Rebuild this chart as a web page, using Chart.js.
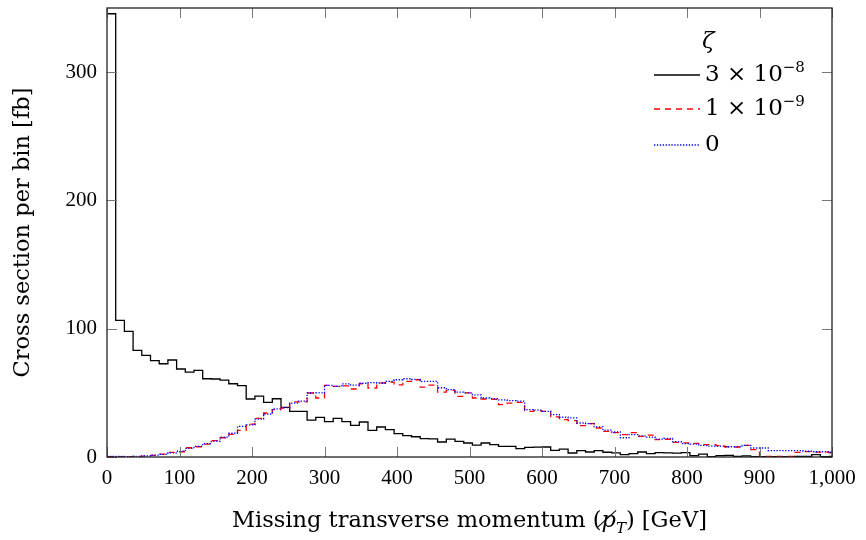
<!DOCTYPE html>
<html>
<head>
<meta charset="utf-8">
<script src="https://cdn.jsdelivr.net/npm/chart.js@4.4.1/dist/chart.umd.min.js"></script>
<style>
    html, body { margin: 0; padding: 0; background: #ffffff; }
    #wrap { position: relative; width: 866px; height: 540px; }
    #chart { position: absolute; left: 0; top: 0; }
    .serif { font-family: 'DejaVu Serif', serif; color: #000; }
    .xtitle { position: absolute; left: 107px; width: 725px; top: 505px; text-align: center; font-size: 22.5px; white-space: nowrap; line-height: 28px; }
    .xtitle sub { font-size: 15px; line-height: 0; }
    .leg { position: absolute; font-size: 23px; white-space: nowrap; line-height: 23px; height: 23px; }
    .leg svg { position: absolute; left: 0; top: 11px; }
    .leg span { position: absolute; left: 51px; top: 0; }
    .leg sup { font-size: 15px; vertical-align: 9px; line-height: 0; }
</style>
</head>
<body>
<div id="wrap">
    <canvas id="chart" width="866" height="540"></canvas>
    <div class="xtitle serif">Missing transverse momentum (<i>p&#824;</i><sub><i>T</i></sub>) [GeV]</div>
    <div class="leg serif" style="left:702px; top:29px;"><i>&zeta;</i></div>
    <div class="leg serif" style="left:654px; top:62px;">
        <svg width="46" height="4"><line x1="0" y1="2" x2="46" y2="2" stroke="#000" stroke-width="1.3"/></svg>
        <span>3 &times; 10<sup>&minus;8</sup></span>
    </div>
    <div class="leg serif" style="left:654px; top:96px;">
        <svg width="46" height="4"><line x1="0" y1="2" x2="46" y2="2" stroke="#ff0000" stroke-width="1.3" stroke-dasharray="6,5"/></svg>
        <span>1 &times; 10<sup>&minus;9</sup></span>
    </div>
    <div class="leg serif" style="left:654px; top:132px;">
        <svg width="46" height="4"><line x1="0" y1="2" x2="46" y2="2" stroke="#0000ff" stroke-width="1.3" stroke-dasharray="1.3,1.6"/></svg>
        <span>0</span>
    </div>
</div>
<script>
// bin edges (GeV), 12 GeV bins; last edge runs past the 1,000 axis limit
const binEdges = [0, 12, 24, 36, 48, 60, 72, 84, 96, 108, 120, 132, 144, 156, 168, 180, 192, 204,
    216, 228, 240, 252, 264, 276, 288, 300, 312, 324, 336, 348, 360, 372, 384, 396, 408, 420,
    432, 444, 456, 468, 480, 492, 504, 516, 528, 540, 552, 564, 576, 588, 600, 612, 624, 636,
    648, 660, 672, 684, 696, 708, 720, 732, 744, 756, 768, 780, 792, 804, 816, 828, 840, 852,
    864, 876, 888, 900, 912, 924, 936, 948, 960, 972, 984, 996, 1008];
const xTicks = [0, 100, 200, 300, 400, 500, 600, 700, 800, 900, 1000];
const yTicks = [0, 100, 200, 300];

// zeta = 3e-8 (black)
const zeta3e8 = [345.5, 106.5, 97.9, 83.1, 79.2, 75.1, 72.7, 75.6, 68.6, 66.2, 67.5, 61.0, 60.8, 60.0,
    57.1, 55.6, 45.2, 47.5, 42.6, 45.4, 38.7, 35.5, 35.5, 28.8, 30.9, 27.5, 30.1, 27.5, 24.6, 27.3,
    20.7, 23.4, 21.3, 18.2, 16.6, 15.8, 14.3, 14.2, 11.7, 14.0, 12.2, 10.9, 9.3, 10.9, 9.6, 8.3,
    8.3, 6.5, 7.5, 7.7, 7.8, 5.2, 6.2, 3.1, 4.9, 3.9, 4.9, 3.7, 3.2, 1.8, 2.6, 3.9, 2.6, 3.4, 3.2,
    3.0, 3.4, 1.0, 2.2, 0.2, 1.0, 1.3, 0.5, 0.8, 0.3, 0.2, 0.3, 0.2, 0.3, 0.5, 0.4, 1.8, 0.3, 0.5];

// zeta = 1e-9 (red dashed)
const zeta1e9 = [0.2, 0.3, 0.3, 0.5, 0.7, 1.2, 2.3, 3.6, 4.1, 7.2, 8.0, 10.1, 12.7, 15.0, 17.6, 20.7,
    25.7, 30.1, 34.3, 36.9, 38.2, 42.9, 42.9, 49.9, 46.0, 55.8, 55.0, 55.5, 53.0, 57.1, 53.8, 57.7,
    58.4, 56.3, 58.9, 60.2, 54.5, 56.0, 50.5, 52.0, 47.2, 50.0, 46.0, 45.2, 45.0, 40.8, 42.0, 42.6,
    35.5, 36.0, 35.5, 31.2, 29.1, 28.3, 24.4, 26.0, 22.6, 20.0, 19.0, 17.4, 19.0, 16.0, 17.0, 13.5,
    13.8, 11.4, 11.0, 10.6, 9.6, 9.6, 8.8, 8.0, 7.8, 9.0, 5.7, 0.5, 0.4, 0.4, 0.5, 3.6, 4.2, 3.8,
    3.8, 3.3];

// zeta = 0 (blue dotted)
const zeta0 = [0.5, 0.4, 0.3, 0.4, 0.8, 1.5, 2.0, 3.2, 4.5, 6.8, 8.3, 10.5, 12.3, 15.5, 18.5, 23.8,
    25.0, 29.5, 33.5, 37.5, 38.5, 42.0, 43.5, 49.9, 50.0, 55.8, 55.0, 57.0, 56.0, 57.5, 58.0, 57.7,
    59.0, 60.2, 61.0, 60.5, 59.0, 59.0, 54.0, 52.5, 50.5, 50.0, 48.5, 46.0, 45.5, 44.5, 44.0, 43.5,
    37.0, 36.5, 35.5, 33.0, 31.0, 30.5, 26.5, 26.0, 23.5, 21.0, 19.5, 15.0, 17.5, 16.5, 15.5, 14.0,
    14.5, 12.0, 10.5, 10.0, 9.0, 8.5, 8.5, 8.0, 8.0, 9.0, 7.0, 7.0, 5.0, 4.9, 4.9, 4.9, 4.5, 4.1,
    4.1, 3.8];

const serif = 'DejaVu Serif';
const tickFont = 'Liberation Serif';

function histPoints(values) {
    // one point per left bin edge, plus the closing edge
    return binEdges.map((e, i) => ({ x: e, y: values[Math.min(i, values.length - 1)] }));
}

const frameTicks = {
    id: 'frameTicks',
    afterDatasetsDraw(chart) {
        const { ctx, chartArea: a, scales: { x, y } } = chart;
        ctx.save();
        ctx.strokeStyle = '#777777';
        ctx.lineWidth = 1;
        ctx.beginPath();
        for (let v of xTicks) {
            const px = Math.round(x.getPixelForValue(v)) + 0.5;
            ctx.moveTo(px, a.bottom);
            ctx.lineTo(px, a.bottom - 10);
            ctx.moveTo(px, a.top);
            ctx.lineTo(px, a.top + 10);
        }
        for (let v of yTicks) {
            const py = Math.round(y.getPixelForValue(v)) + 0.5;
            ctx.moveTo(a.left, py);
            ctx.lineTo(a.left + 10, py);
            ctx.moveTo(a.right, py);
            ctx.lineTo(a.right - 10, py);
        }
        ctx.stroke();
        ctx.strokeStyle = '#222222';
        ctx.lineWidth = 1.3;
        ctx.strokeRect(a.left, a.top, a.right - a.left, a.bottom - a.top);
        ctx.restore();
    }
};

new Chart(document.getElementById('chart'), {
    type: 'line',
    data: {
        datasets: [
            {
                label: '3 × 10⁻⁸',
                data: histPoints(zeta3e8),
                borderColor: '#000000',
                borderWidth: 1.3,
                order: 3
            },
            {
                label: '1 × 10⁻⁹',
                data: histPoints(zeta1e9),
                borderColor: '#ff0000',
                borderWidth: 1.3,
                borderDash: [6, 5],
                order: 2
            },
            {
                label: '0',
                data: histPoints(zeta0),
                borderColor: '#0000ff',
                borderWidth: 1.3,
                borderDash: [1.3, 1.6],
                order: 1
            }
        ]
    },
    options: {
        responsive: false,
        animation: false,
        devicePixelRatio: 1,
        locale: 'en-US',
        layout: { padding: { top: 8, right: 34, bottom: 0, left: 0 } },
        elements: {
            line: { stepped: true, tension: 0, fill: false },
            point: { radius: 0, hoverRadius: 0 }
        },
        plugins: {
            legend: { display: false },
            tooltip: { enabled: false }
        },
        scales: {
            x: {
                type: 'linear',
                min: 0,
                max: 1000,
                afterBuildTicks: s => { s.ticks = xTicks.map(v => ({ value: v })); },
                afterFit: s => { s.height = 83; s.paddingLeft = 0; s.paddingRight = 0; },
                grid: { display: false, drawTicks: false },
                border: { display: false },
                ticks: {
                    padding: 9,
                    color: '#000000',
                    maxRotation: 0,
                    autoSkip: false,
                    font: { family: tickFont, size: 21 }
                }
            },
            y: {
                min: 0,
                max: 350,
                afterBuildTicks: s => { s.ticks = yTicks.map(v => ({ value: v })); },
                afterFit: s => { s.width = 107; s.paddingTop = 0; s.paddingBottom = 0; },
                grid: { display: false, drawTicks: false },
                border: { display: false },
                ticks: {
                    padding: 10,
                    color: '#000000',
                    font: { family: tickFont, size: 21 }
                },
                title: {
                    display: true,
                    text: 'Cross section per bin [fb]',
                    color: '#000000',
                    font: { family: serif, size: 22.5 },
                    padding: { top: 10, bottom: 0 }
                }
            }
        }
    },
    plugins: [frameTicks]
});
</script>
</body>
</html>
